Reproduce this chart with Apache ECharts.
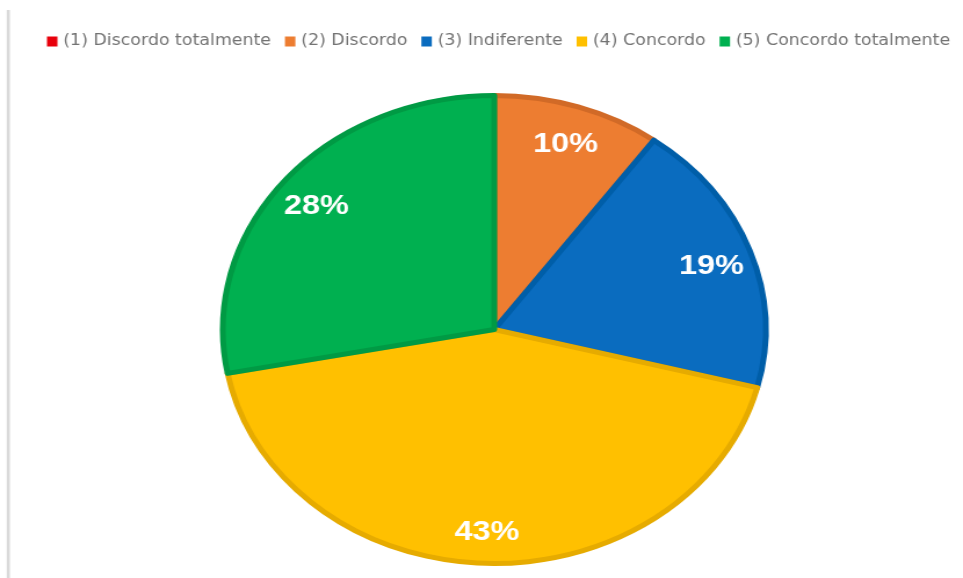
<!DOCTYPE html>
<html><head><meta charset="utf-8">
<script src="https://cdn.jsdelivr.net/npm/echarts@6/dist/echarts.min.js"></script>
<style>
html,body{margin:0;padding:0;background:#fff;overflow:hidden}
#wrap{width:963px;height:578px;overflow:hidden;position:relative}
#c{width:830px;height:578px;transform:scaleX(1.16024);transform-origin:0 0}
</style></head>
<body><div id="wrap"><div id="c"></div></div>
<script>
// Data
const categories = ['(1) Discordo totalmente', '(2) Discordo', '(3) Indiferente', '(4) Concordo', '(5) Concordo totalmente'];
const values = [0, 10, 19, 43, 28];
// Styles
const colors = ['#e8000b', '#ed7d31', '#0a6cbf', '#ffc000', '#00b050'];
const borderColors = ['#c00000', '#d16a27', '#005ea8', '#e6ab00', '#009a44'];

const pieData = categories.map((n, i) => ({
  name: n, value: values[i],
  itemStyle: { color: colors[i], borderColor: borderColors[i] }
}));
const labelData = categories.map((n, i) => ({ name: n, value: values[i] }));

const chart = echarts.init(document.getElementById('c'), null, { renderer: 'canvas' });
chart.setOption({
  animation: false,
  backgroundColor: '#ffffff',
  color: colors,
  graphic: [{ type: 'rect', silent: true, shape: { x: 5.8, y: 10, width: 2.7, height: 570 }, style: { fill: '#d9d9d9' } }],
  legend: {
    data: categories,
    left: 40.5, top: 34, width: 789, padding: 0,
    icon: 'rect', itemWidth: 9, itemHeight: 10, itemGap: 12,
    itemStyle: { borderWidth: 0 },
    selectedMode: false,
    textStyle: { fontFamily: 'DejaVu Sans', fontSize: 15, color: '#737373' }
  },
  series: [
    {
      type: 'pie', name: 'main',
      center: [426, 329.5], radius: [0, 234],
      startAngle: 90, clockwise: true,
      silent: true,
      label: { show: false }, labelLine: { show: false },
      itemStyle: { borderWidth: 5, borderJoin: 'round' },
      emphasis: { disabled: true },
      data: pieData
    },
    {
      type: 'pie', name: 'labels',
      center: [426, 329.5], radius: [158, 234],
      startAngle: 90, clockwise: true,
      silent: true, legendHoverLink: false,
      itemStyle: { color: 'rgba(0,0,0,0)', borderWidth: 0 },
      emphasis: { disabled: true },
      label: {
        show: true, position: 'inside', offset: [0, 4],
        formatter: p => p.value > 0 ? Math.round(p.percent) + '%' : '',
        color: '#ffffff', fontFamily: 'Liberation Sans', fontWeight: 'bold', fontSize: 28
      },
      labelLine: { show: false },
      data: labelData
    }
  ]
});
</script>
</body></html>
